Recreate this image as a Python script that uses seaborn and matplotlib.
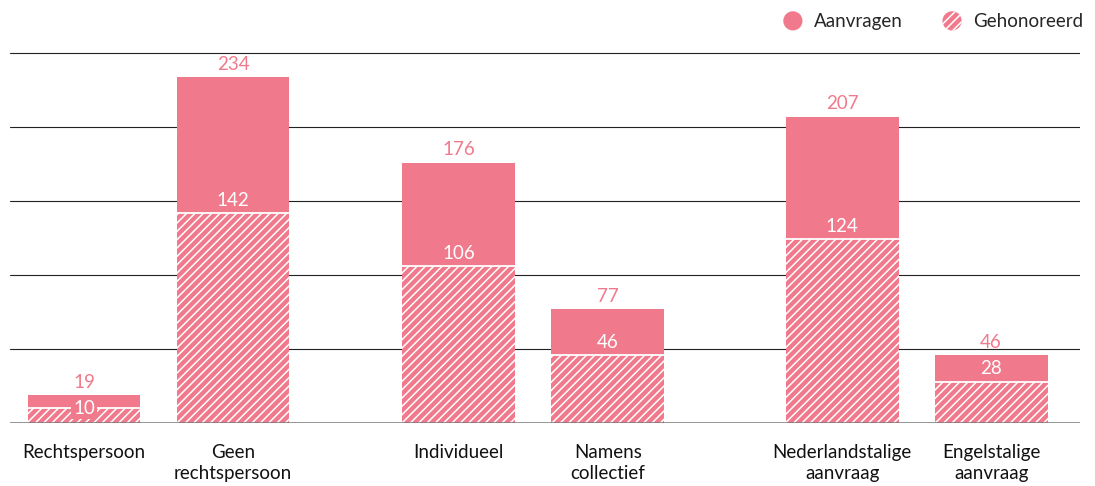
import pandas as pd
import matplotlib
matplotlib.use("Agg")
import matplotlib.pyplot as plt
import matplotlib.patches as mpatches
from matplotlib.legend_handler import HandlerPatch
import seaborn as sns

# data
categories = ['Rechtspersoon', 'Geen\nrechtspersoon', 'Individueel',
              'Namens\ncollectief', 'Nederlandstalige\naanvraag', 'Engelstalige\naanvraag']
group_of = [0, 0, 1, 1, 2, 2]
aanvragen = [19, 234, 176, 77, 207, 46]
gehonoreerd = [10, 142, 106, 46, 124, 28]

PINK = '#F07A8C'
FS = 13.5

sns.set_style('white')
plt.rcParams['font.family'] = ['Lato', 'DejaVu Sans']
plt.rcParams['hatch.linewidth'] = 1.1

# x positions: pairs with a wider gap between the groups
gaps = [0, 0.517, 1.09]
pos = [i + gaps[g] for i, g in enumerate(group_of)]

df = pd.DataFrame({'pos': pos, 'cat': categories,
                   'aanvragen': aanvragen, 'gehonoreerd': gehonoreerd})

fig = plt.figure(figsize=(10.95, 4.86), dpi=100)
ax = fig.add_axes([10 / 1095, 63 / 486, 1070 / 1095, 0.7918])

sns.barplot(data=df, x='pos', y='aanvragen', native_scale=True, width=0.758,
            color=PINK, saturation=1, linewidth=0, errorbar=None, ax=ax, zorder=2)
sns.barplot(data=df, x='pos', y='gehonoreerd', native_scale=True, width=0.758,
            color=PINK, saturation=1, linewidth=0, errorbar=None, ax=ax, zorder=3,
            hatch='////', edgecolor='white')

# white line on top of the hatched part
ax.hlines(df['gehonoreerd'], df['pos'] - 0.379, df['pos'] + 0.379,
          color='white', lw=1.3, zorder=4)

for p, a, h in zip(pos, aanvragen, gehonoreerd):
    ax.annotate(str(a), (p, a), xytext=(0, 3), textcoords='offset points',
                ha='center', va='bottom', color=PINK, fontsize=FS)
    if a - h < 12:
        ax.annotate(str(h), (p, h), ha='center', va='center', color='white', fontsize=FS,
                    bbox=dict(boxstyle='square,pad=0.1', fc=PINK, ec='none'), zorder=5)
    else:
        ax.annotate(str(h), (p, h), xytext=(0, 3), textcoords='offset points',
                    ha='center', va='bottom', color='white', fontsize=FS, zorder=5)

ax.set_xlim(pos[0] - 0.497, pos[-1] + 0.597)
ax.set_ylim(0, 260)
ax.set_yticks([50, 100, 150, 200, 250])
ax.set_yticklabels([])
ax.yaxis.grid(True, color='#222222', lw=0.8)
ax.set_axisbelow(True)
ax.axhline(0, color='#777777', lw=1.8, zorder=6)
ax.set_xticks(pos)
ax.set_xticklabels(categories, fontsize=FS, color='#111111', linespacing=1.3)
ax.tick_params(axis='x', length=0, pad=15)
ax.tick_params(axis='y', length=0)
ax.set_xlabel('')
ax.set_ylabel('')
sns.despine(ax=ax, left=True, bottom=True, top=True, right=True)


class CircleHandler(HandlerPatch):
    def create_artists(self, legend, orig, xdescent, ydescent, width, height, fontsize, trans):
        r = 0.5 * min(width, height)
        c = mpatches.Circle((width / 2 - xdescent, height / 2 - ydescent), r)
        self.update_prop(c, orig, legend)
        c.set_transform(trans)
        return [c]


handles = [mpatches.Patch(facecolor=PINK, edgecolor=PINK, lw=0, label='Aanvragen'),
           mpatches.Patch(facecolor=PINK, edgecolor='white', lw=0, hatch='////', label='Gehonoreerd')]
fig.legend(handles=handles, handler_map={mpatches.Patch: CircleHandler()},
           loc='upper right', bbox_to_anchor=(1.0, 1.0), ncol=2, frameon=False,
           fontsize=FS, handlelength=1.2, handleheight=1.2, handletextpad=0.55,
           columnspacing=2.0, borderaxespad=0.3, borderpad=0.3)

fig.savefig('out.png', dpi=100)
